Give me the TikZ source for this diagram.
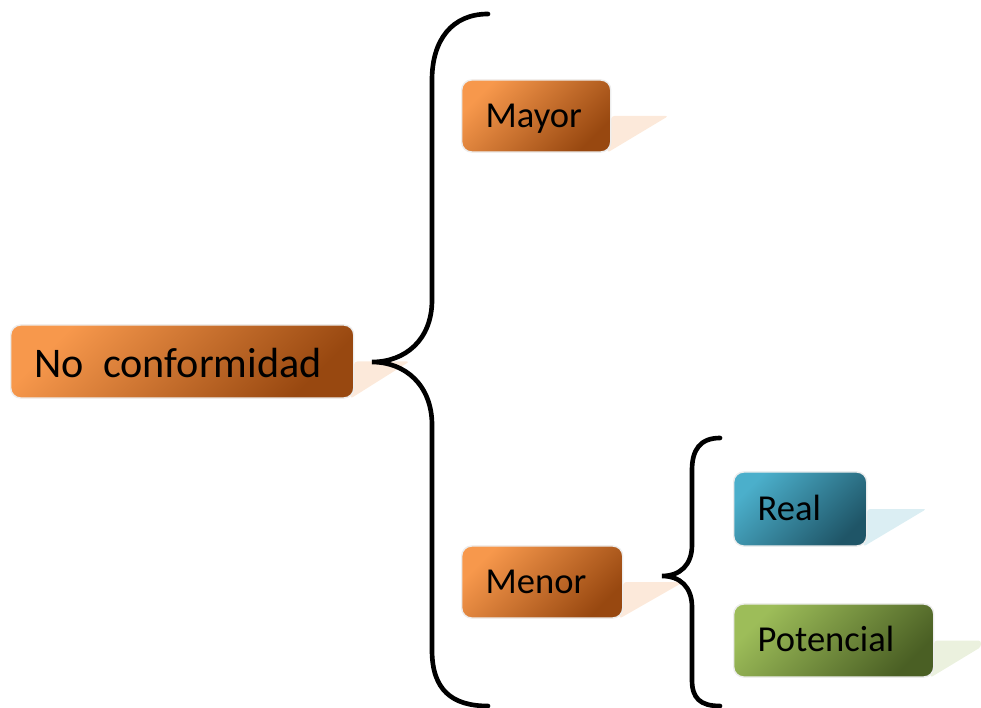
\documentclass[tikz,border=0pt]{standalone}
\usepackage{fontspec}
\setmainfont{Carlito}
\usetikzlibrary{backgrounds}
\definecolor{orlight}{RGB}{247,152,76}
\definecolor{ordark}{RGB}{152,72,16}
\definecolor{ortail}{RGB}{252,233,218}
\definecolor{bllight}{RGB}{75,175,203}
\definecolor{bldark}{RGB}{31,85,103}
\definecolor{bltail}{RGB}{219,238,243}
\definecolor{grlight}{RGB}{157,189,89}
\definecolor{grdark}{RGB}{74,95,36}
\definecolor{grtail}{RGB}{235,241,222}

\begin{document}
\begin{tikzpicture}[
    x=0.025cm, y=-0.025cm,
    box/.style={rectangle, rounded corners=0.25cm, draw=black!7, line width=1pt, anchor=west, align=left, inner xsep=0.6cm, inner ysep=0pt, minimum height=1.8cm, text height=0.56cm, text depth=0pt, font=\fontsize{26}{30}\selectfont},
    obox/.style={box, top color=orlight, bottom color=ordark, shading angle=45},
    bbox/.style={box, top color=bllight, bottom color=bldark, shading angle=45},
    gbox/.style={box, top color=grlight, bottom color=grdark, shading angle=45},
    tail/.style={rounded corners=2pt},
    brace/.style={line width=3.3pt, line cap=round}
]
    \useasboundingbox (0,0) rectangle (981,708);

    \node[obox, text width=7.375cm, minimum height=1.825cm, text height=0.8cm, font=\fontsize{30}{36}\selectfont] (noconf) at (10,361.5) {\mbox{No\hspace{0.45em}conformidad}};
    \node[obox, text width=2.525cm] (mayor) at (461,116) {Mayor};
    \node[obox, text width=2.825cm] (menor) at (461,582) {Menor};
    \node[bbox, text width=2.125cm, minimum height=1.85cm] (real) at (733,509) {Real};
    \node[gbox, text width=3.8cm, minimum height=1.825cm] (potencial) at (733,640.5) {Potencial};

    % tails behind the boxes
    \begin{scope}[on background layer]
        \fill[tail, ortail] (noconf.east) -- ++(55,0) -- ([xshift=-3pt]noconf.south east) -- cycle;
        \fill[tail, ortail] (mayor.east) -- ++(57,0) -- ([xshift=-3pt]mayor.south east) -- cycle;
        \fill[tail, ortail] (menor.east) -- ++(60,0) -- ([xshift=-3pt]menor.south east) -- cycle;
        \fill[tail, bltail] (real.east) -- ++(59,0) -- ([xshift=-3pt]real.south east) -- cycle;
        \fill[tail, grtail] (potencial.east) -- (981,640.5) -- (981,647) -- ([xshift=-3pt]potencial.south east) -- cycle;
    \end{scope}

    % braces
    \coordinate (bigtop) at (488,14);
    \coordinate (bigtip) at (372,362);
    \coordinate (bigbot) at (488,706);
    \coordinate (smalltop) at (720,438);
    \coordinate (smalltip) at (662,576);
    \coordinate (smallbot) at (720,706);

    \draw[brace] (bigtop) .. controls (452,14) and (432,40) .. (432,80) -- (432,300)
        .. controls (432,340) and (405,362) .. (bigtip)
        .. controls (405,362) and (432,385) .. (432,425) -- (432,650)
        .. controls (432,690) and (452,706) .. (bigbot);
    \draw[brace] (smalltop) .. controls (700,438) and (692,450) .. (692,470) -- (692,545)
        .. controls (692,565) and (680,576) .. (smalltip)
        .. controls (680,576) and (692,587) .. (692,607) -- (692,680)
        .. controls (692,698) and (700,706) .. (smallbot);
\end{tikzpicture}
\end{document}
